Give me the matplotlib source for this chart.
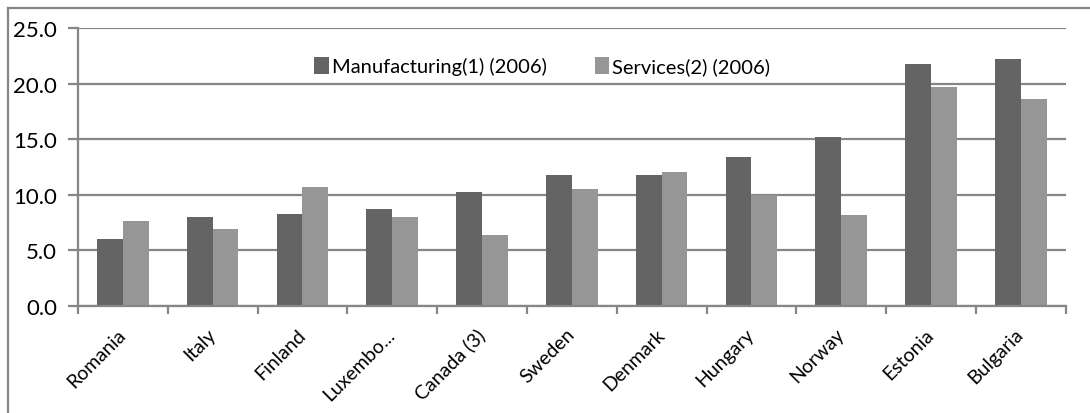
import matplotlib.pyplot as plt
import matplotlib.transforms as mtransforms
import numpy as np
from matplotlib.lines import Line2D

countries = ["Romania", "Italy", "Finland", "Luxembo...", "Canada (3)", "Sweden",
             "Denmark", "Hungary", "Norway", "Estonia", "Bulgaria"]
manufacturing = [6.0, 8.0, 8.3, 8.7, 10.2, 11.8, 11.8, 13.4, 15.2, 21.8, 22.2]
services = [7.6, 6.9, 10.7, 8.0, 6.4, 10.5, 12.0, 10.0, 8.2, 19.7, 18.6]
y_ticks = [0, 5, 10, 15, 20, 25]

plt.rcParams['font.family'] = ['Lato', 'DejaVu Sans']

W, H = 1090, 414
fig = plt.figure(figsize=(W / 100, H / 100), dpi=100)
ax = fig.add_axes([78 / W, 1 - 306.7 / H, (1065.7 - 78) / W, (306.7 - 29) / H])

grid_c = "#868686"
x = np.arange(len(countries))
bw = 0.287
ax.bar(x - bw / 2, manufacturing, bw, color="#646464", label="Manufacturing(1) (2006)", zorder=3)
ax.bar(x + bw / 2, services, bw, color="#969696", label="Services(2) (2006)", zorder=3)

ax.set_xlim(-0.5, len(countries) - 0.5)
ax.set_ylim(0, 25)
ax.set_yticks(y_ticks)
ax.set_yticklabels([f"{v:.1f}" for v in y_ticks], fontsize=16)
ax.yaxis.grid(True, color=grid_c, linewidth=1.6, zorder=0)

for s in ["top", "right"]:
    ax.spines[s].set_visible(False)
for s in ["left", "bottom"]:
    ax.spines[s].set_color(grid_c)
    ax.spines[s].set_linewidth(1.6)
    ax.spines[s].set_zorder(4)

# category labels at centres, tick marks on category boundaries
ax.set_xticks(x)
ax.set_xticklabels(countries, rotation=45, ha="right", rotation_mode="anchor", fontsize=14)
ax.tick_params(axis="x", length=0, pad=14)
shift = mtransforms.ScaledTranslation(-6 / 100, 0, fig.dpi_scale_trans)
for lbl in ax.get_xticklabels():
    lbl.set_transform(lbl.get_transform() + shift)
ax.set_xticks(np.arange(len(countries) + 1) - 0.5, minor=True)
ax.tick_params(axis="x", which="minor", length=6, width=1.6, color=grid_c)
ax.tick_params(axis="y", length=7, width=1.6, color=grid_c, pad=8)

ax.legend(loc="center", bbox_to_anchor=(0.47, 0.863), ncol=2, frameon=False,
          fontsize=14.5, handlelength=0.7, handleheight=0.9, handletextpad=0.15,
          columnspacing=2.4)

# chart frame (top and left edges only)
fig.add_artist(Line2D([8 / W, 8 / W], [0, 1 - 9 / H], color=grid_c, linewidth=1.6))
fig.add_artist(Line2D([8 / W, 1], [1 - 9 / H, 1 - 9 / H], color=grid_c, linewidth=1.6))

fig.savefig("out.png", dpi=100)
